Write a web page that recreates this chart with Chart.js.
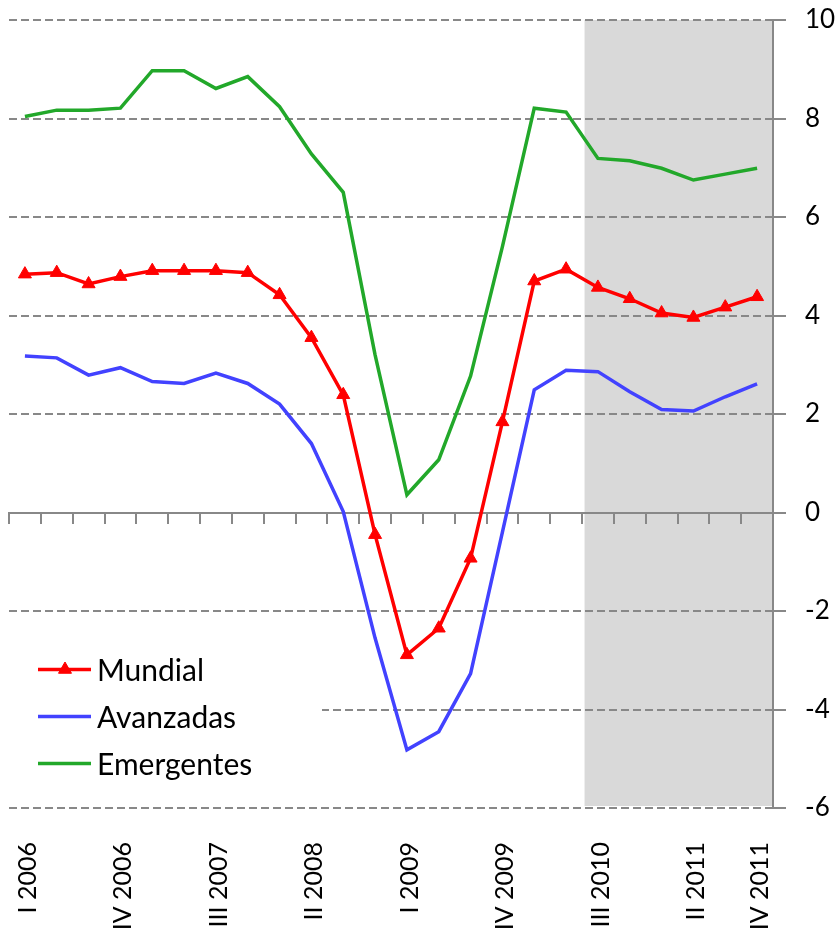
<!DOCTYPE html>
<html>
<head>
<meta charset="utf-8">
<script src="https://cdn.jsdelivr.net/npm/chart.js@4.4.1/dist/chart.umd.min.js"></script>
<style>
    html, body { margin: 0; padding: 0; background: #fff; }
    canvas { display: block; }
</style>
</head>
<body>
<canvas id="grafico" width="839" height="937"></canvas>
<script>
// datos trimestrales, variacion interanual del PIB (%)
var trimestres = [
    'I 2006', 'II 2006', 'III 2006', 'IV 2006',
    'I 2007', 'II 2007', 'III 2007', 'IV 2007',
    'I 2008', 'II 2008', 'III 2008', 'IV 2008',
    'I 2009', 'II 2009', 'III 2009', 'IV 2009',
    'I 2010', 'II 2010', 'III 2010', 'IV 2010',
    'I 2011', 'II 2011', 'III 2011', 'IV 2011'
];
var etiquetasVisibles = ['I 2006', 'IV 2006', 'III 2007', 'II 2008', 'I 2009', 'IV 2009', 'III 2010', 'II 2011', 'IV 2011'];

var mundial = [4.84, 4.87, 4.64, 4.79, 4.91, 4.91, 4.91, 4.87, 4.42, 3.55, 2.39, -0.45, -2.89, -2.35, -0.93, 1.84, 4.70, 4.94, 4.57, 4.34, 4.05, 3.96, 4.17, 4.38];
var avanzadas = [3.18, 3.14, 2.79, 2.94, 2.66, 2.62, 2.83, 2.62, 2.20, 1.40, 0.02, -2.55, -4.82, -4.45, -3.27, -0.40, 2.49, 2.89, 2.86, 2.45, 2.09, 2.06, 2.35, 2.61];
var emergentes = [8.04, 8.17, 8.17, 8.21, 8.97, 8.97, 8.61, 8.85, 8.24, 7.28, 6.50, 3.20, 0.36, 1.07, 2.77, 5.40, 8.21, 8.13, 7.19, 7.14, 6.99, 6.75, 6.87, 6.99];

// periodo de prevision (zona sombreada)
var previsionDesde = 'III 2010';
var previsionHasta = 'IV 2011';

var ejeMin = -6;
var ejeMax = 10;
var ejePaso = 2;

(function (window, document) {
    'use strict';

    var fuente = 'Lato, "Open Sans", sans-serif';
    var gris = '#888888';

    // sombreado del periodo de prevision, debajo de la reticula
    var sombra = {
        id: 'sombra',
        beforeDraw: function (chart) {
            var ctx = chart.ctx;
            var x = chart.scales.x;
            var y = chart.scales.y;
            var i0 = trimestres.indexOf(previsionDesde);
            var i1 = trimestres.indexOf(previsionHasta);
            var izq = x.getPixelForValue(i0 - 0.42);
            var der = x.getPixelForValue(i1 + 0.5);
            var arriba = y.getPixelForValue(ejeMax);
            var abajo = y.getPixelForValue(ejeMin);
            ctx.save();
            ctx.fillStyle = '#fff';
            ctx.fillRect(0, 0, chart.width, chart.height);
            ctx.fillStyle = '#d9d9d9';
            ctx.fillRect(izq, arriba, der - izq, abajo - arriba - 2);
            ctx.restore();
        }
    };

    // leyenda dentro del area del grafico, abajo a la izquierda
    var leyenda = {
        id: 'leyendaInterna',
        beforeDatasetsDraw: function (chart) {
            var ctx = chart.ctx;
            var area = chart.chartArea;
            ctx.save();
            ctx.fillStyle = '#fff';
            ctx.fillRect(area.left, 630, 313, 165);
            chart.data.datasets.forEach(function (ds, i) {
                var yy = 669.5 + i * 47;
                ctx.strokeStyle = ds.borderColor;
                ctx.lineWidth = 3.5;
                ctx.beginPath();
                ctx.moveTo(38, yy);
                ctx.lineTo(91, yy);
                ctx.stroke();
                if (ds.pointRadius) {
                    ctx.fillStyle = ds.borderColor;
                    ctx.strokeStyle = ds.borderColor;
                    ctx.lineWidth = 1;
                    Chart.helpers.drawPoint(ctx, { pointStyle: 'triangle', radius: ds.pointRadius, rotation: 0, borderWidth: 1 }, 65, yy);
                }
                ctx.fillStyle = '#000';
                ctx.font = '30px ' + fuente;
                ctx.textBaseline = 'alphabetic';
                ctx.textAlign = 'left';
                ctx.fillText(ds.label, 97, yy + 11.5);
            });
            ctx.restore();
        }
    };

    var $grafico = document.getElementById('grafico');

    var grafico = new Chart($grafico, {
        type: 'line',
        data: {
            labels: trimestres,
            datasets: [{
                label: 'Mundial',
                data: mundial,
                borderColor: '#ff0000',
                backgroundColor: '#ff0000',
                borderWidth: 3.5,
                pointStyle: 'triangle',
                pointRadius: 7.5,
                pointBorderWidth: 1,
                pointBackgroundColor: '#ff0000',
                pointBorderColor: '#ff0000'
            }, {
                label: 'Avanzadas',
                data: avanzadas,
                borderColor: '#4242ff',
                backgroundColor: '#4242ff',
                borderWidth: 3.5,
                pointRadius: 0
            }, {
                label: 'Emergentes',
                data: emergentes,
                borderColor: '#22a82a',
                backgroundColor: '#22a82a',
                borderWidth: 3.5,
                pointRadius: 0
            }]
        },
        options: {
            responsive: false,
            animation: false,
            layout: {
                padding: { top: 20, left: 9, right: 0, bottom: 0 }
            },
            elements: {
                line: { tension: 0 }
            },
            plugins: {
                legend: { display: false },
                tooltip: { enabled: false }
            },
            scales: {
                x: {
                    type: 'category',
                    offset: true,
                    grid: { display: false, drawTicks: false, offset: true },
                    border: { display: false },
                    ticks: {
                        autoSkip: false,
                        minRotation: 90,
                        maxRotation: 90,
                        padding: 34,
                        labelOffset: 3,
                        color: '#000',
                        font: { family: fuente, size: 25 },
                        callback: function (v) {
                            var l = this.getLabelForValue(v);
                            return etiquetasVisibles.indexOf(l) >= 0 ? l : '';
                        }
                    },
                    afterFit: function (scale) {
                        scale.height = 129;
                        scale.paddingLeft = 0;
                        scale.paddingRight = 0;
                    }
                },
                // eje en el cero con las marcas de los trimestres
                x2: {
                    type: 'category',
                    position: { y: 0 },
                    offset: true,
                    grid: {
                        offset: true,
                        drawOnChartArea: false,
                        drawTicks: true,
                        tickLength: 10,
                        color: gris,
                        lineWidth: 2
                    },
                    border: { display: true, color: gris, width: 2 },
                    ticks: { display: false, autoSkip: false }
                },
                y: {
                    position: 'right',
                    min: ejeMin,
                    max: ejeMax,
                    ticks: {
                        stepSize: ejePaso,
                        padding: 19,
                        color: '#000',
                        font: { family: fuente, size: 26 }
                    },
                    grid: {
                        color: gris,
                        lineWidth: 2,
                        tickBorderDash: [],
                        tickLength: 13,
                        tickColor: gris,
                        tickWidth: 2
                    },
                    border: { display: true, color: gris, width: 2, dash: [8, 4] },
                    afterFit: function (scale) {
                        scale.width = 66;
                        scale.paddingTop = 0;
                        scale.paddingBottom = 0;
                    }
                }
            }
        },
        plugins: [sombra, leyenda]
    });
})(window, document);
</script>
</body>
</html>
